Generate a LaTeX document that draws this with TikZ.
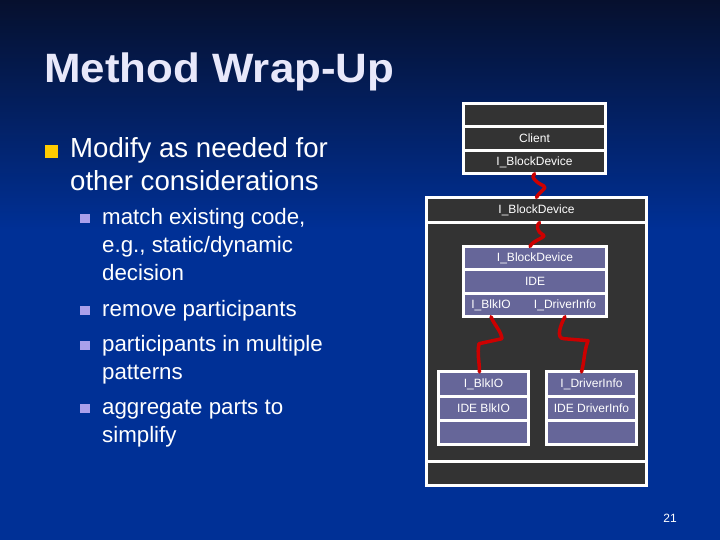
\documentclass[tikz,border=0pt]{standalone}
\usepackage{fontspec}
\setmainfont{Liberation Sans}
\usepackage{tikz}
\usetikzlibrary{positioning}
\usetikzlibrary{calc}
\definecolor{bgtop}{RGB}{6,16,46}
\definecolor{bgbot}{RGB}{0,48,150}
\definecolor{boxgray}{RGB}{51,51,51}
\definecolor{boxblue}{RGB}{102,102,153}
\definecolor{zigred}{RGB}{204,0,0}
\definecolor{gold}{RGB}{255,204,0}
\definecolor{lilac}{RGB}{170,160,235}
\definecolor{titlecol}{RGB}{232,232,250}
\tikzset{cellgray/.style = {draw=white, line width=3pt, fill=boxgray,
                            outer sep=0pt, inner sep=0pt, text=white,
                            font=\fontsize{12}{14}\selectfont}}
\tikzset{cellblue/.style = {cellgray, fill=boxblue}}
\tikzset{celltext/.style = {inner sep=0pt, text=white,
                            font=\fontsize{12}{14}\selectfont}}
\tikzset{zig/.style = {draw=zigred, line width=3.5pt,
                       line cap=round, line join=round}}
\tikzset{sqbox/.style = {fill=#1, inner sep=0pt}}
\tikzset{titletext/.style = {inner sep=0pt, anchor=base west,
                             font=\fontsize{41}{48}\selectfont\bfseries}}
\tikzset{bodytext/.style = {inner sep=0pt, anchor=base west, align=left,
                            text=white}}

\begin{document}
\begin{tikzpicture}[x=1pt, y=1pt]
  \useasboundingbox (0,0) rectangle (720,540);
  \fill[bgbot] (0,0) rectangle (720,540);
  \shade[top color=bgtop, bottom color=bgbot] (0,310) rectangle (720,540);

  \node[titletext, text=titlecol] (ttl) at (44,457)
    {\scalebox{1.07}[1]{Method Wrap-Up}};

  \node[bodytext, font=\fontsize{27.6}{33}\selectfont] (t1) at (70,349)
    {Modify as needed for\\other considerations};
  \node[sqbox=gold, minimum size=13pt]
    (b1) at ([shift={(-19,39.5)}]t1.base west) {};

  \node[bodytext, font=\fontsize{22.3}{28}\selectfont] (s1) at (102,259)
    {match existing code,\\e.g., static/dynamic\\decision};
  \node[bodytext, font=\fontsize{22.3}{28}\selectfont] (s2) at (102,223)
    {remove participants};
  \node[bodytext, font=\fontsize{22.3}{28}\selectfont] (s3) at (102,160)
    {participants in multiple\\patterns};
  \node[bodytext, font=\fontsize{22.3}{28}\selectfont] (s4) at (102,97)
    {aggregate parts to\\simplify};
  \foreach \s/\up in {s1/62.5, s2/6.5, s3/34.5, s4/34.5}
    \node[sqbox=lilac, minimum size=9.5pt]
      at ([shift={(-17,\up)}]\s.base west) {};

  \node[cellgray, minimum width=142pt, minimum height=23.4pt]
    (cl0) at (534.5,424.8) {};
  \node[cellgray, minimum width=142pt, minimum height=23.4pt,
        below=0pt of cl0] (cl1) {Client};
  \node[cellgray, minimum width=142pt, minimum height=23.4pt,
        below=0pt of cl1] (cbd) {I\_BlockDevice};

  \node[cellgray, minimum width=220pt, minimum height=25pt]
    (hdr) at (536.5,330) {I\_BlockDevice};
  \node[cellgray, minimum width=220pt, minimum height=239.5pt,
        below=0pt of hdr] (body) {};
  \node[cellgray, minimum width=220pt, minimum height=24pt,
        below=0pt of body] (foot) {};

  \node[cellblue, minimum width=143pt, minimum height=23.4pt]
    (ide1) at (535,281.8) {I\_BlockDevice};
  \node[cellblue, minimum width=143pt, minimum height=23.4pt,
        below=0pt of ide1] (ide2) {IDE};
  \node[cellblue, minimum width=143pt, minimum height=23.4pt,
        below=0pt of ide2] (ide3) {};
  \node[celltext] (iblk) at ([xshift=-44pt]ide3.center) {I\_BlkIO};
  \node[celltext] (idrv) at ([xshift=30pt]ide3.center) {I\_DriverInfo};

  \node[cellblue, minimum width=90pt, minimum height=24.2pt]
    (blk1) at (483.5,155.9) {I\_BlkIO};
  \node[cellblue, minimum width=90pt, minimum height=24.2pt,
        below=0pt of blk1] (blk2) {IDE BlkIO};
  \node[cellblue, minimum width=90pt, minimum height=24.2pt,
        below=0pt of blk2] (blk3) {};

  \node[cellblue, minimum width=90pt, minimum height=24.2pt]
    (drv1) at (591.5,155.9) {I\_DriverInfo};
  \node[cellblue, minimum width=90pt, minimum height=24.2pt,
        below=0pt of drv1] (drv2) {IDE DriverInfo};
  \node[cellblue, minimum width=90pt, minimum height=24.2pt,
        below=0pt of drv2] (drv3) {};

  \draw[zig] (cbd.south) to[out=-150,in=160] ++(9,-12)
    to[out=-20,in=70] (hdr.north);
  \draw[zig] ([xshift=3pt]hdr.south) to[out=-150,in=160] ++(3,-12)
    to[out=-20,in=70] ([xshift=-5pt]ide1.north);
  \draw[zig] (iblk.south |- ide3.south) .. controls +(3,-8) and +(-1,8) .. ++(11,-22)
    -- ++(-23,-5) .. controls +(-2,-10) and +(0,10) .. ([xshift=-4pt]blk1.north);
  \draw[zig] (idrv.south |- ide3.south) to[out=-120,in=180] ++(-1,-22)
    -- ++(24,-2) to[out=-110,in=75] ([xshift=-10pt]drv1.north);

  \node[celltext] (pg) at (670,22) {21};
\end{tikzpicture}
\end{document}
